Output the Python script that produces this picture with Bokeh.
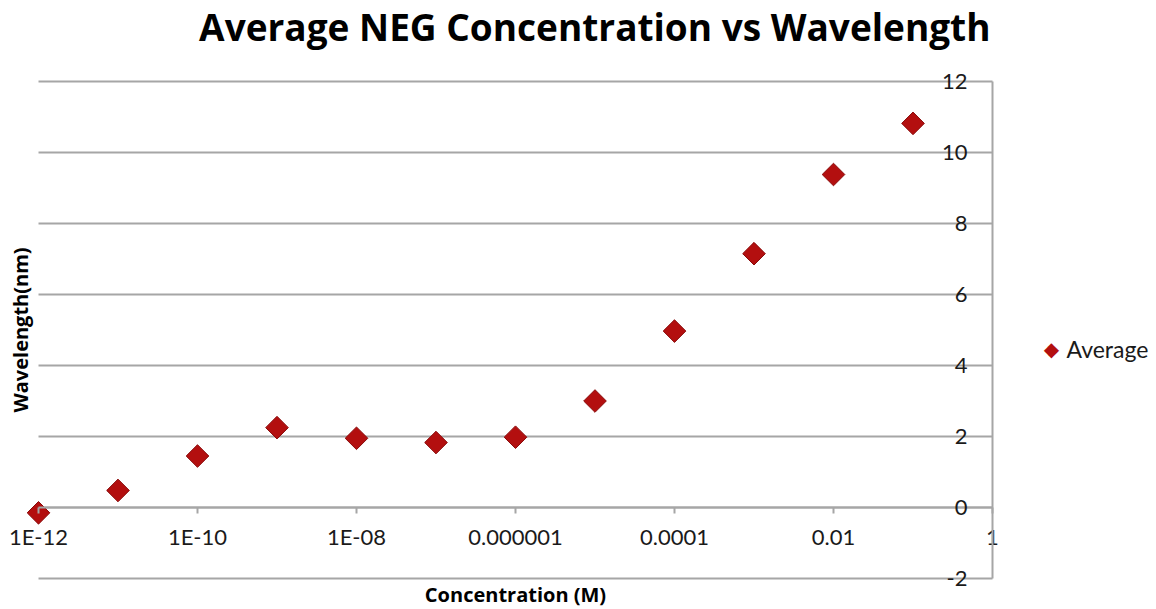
import math
from bokeh.plotting import figure
from bokeh.models import (Range1d, LogAxis, LinearAxis, FixedTicker, Grid, Label,
                          ColumnDataSource)
from bokeh.embed import file_html
from bokeh.resources import INLINE

# ---- data ----
concentration = [1e-12, 1e-11, 1e-10, 1e-9, 1e-8, 1e-7, 1e-6, 1e-5, 1e-4, 1e-3, 1e-2, 1e-1]
wavelength = [-0.15, 0.48, 1.45, 2.25, 1.95, 1.83, 1.98, 3.0, 4.97, 7.15, 9.38, 10.82]
x_ticks = [1e-12, 1e-10, 1e-8, 1e-6, 1e-4, 1e-2, 1]
x_tick_labels = ["1E-12", "1E-10", "1E-08", "0.000001", "0.0001", "0.01", "1"]
y_ticks = [-2, 0, 2, 4, 6, 8, 10, 12]
y_tick_labels = ["-2", "0", "2", "4", "6", "8", "10", "12"]
series_name = "Average"
title_text = "Average NEG Concentration vs Wavelength"
x_title = "Concentration (M)"
y_title = "Wavelength(nm)"

# ---- layout (canvas pixels) ----
W, H = 1156, 609
PLOT_L, PLOT_R, PLOT_T, PLOT_B = 38, 992, 81, 578
x_min, x_max = x_ticks[0], x_ticks[-1]
y_min, y_max = y_ticks[0], y_ticks[-1]
dec = (PLOT_R - PLOT_L) / (math.log10(x_max) - math.log10(x_min))
unit = (PLOT_B - PLOT_T) / (y_max - y_min)
xr = Range1d(10 ** (math.log10(x_min) - PLOT_L / dec), 10 ** (math.log10(x_max) + (W - PLOT_R) / dec))
yr = Range1d(y_min - (H - PLOT_B) / unit, y_max + PLOT_T / unit)

REG = "Lato"
BOLD = "Open Sans"
GRID = "#A6A6A6"
TXT = "#1a1a1a"
MARK_FILL = "#B30F0F"
MARK_LINE = "#8A0B0B"

p = figure(frame_width=W, frame_height=H, x_axis_type="log", x_range=xr, y_range=yr,
           x_axis_location=None, y_axis_location=None,
           output_backend="svg", toolbar_location=None, min_border=0)
p.center = []
p.outline_line_color = None

# horizontal gridlines limited to the plot area
g = Grid(dimension=1, ticker=FixedTicker(ticks=y_ticks), grid_line_color=GRID, grid_line_width=2)
if "cross_bounds" in Grid.properties():
    g.cross_bounds = (x_min, x_max)
    p.add_layout(g)
else:
    p.segment(x0=[x_min] * len(y_ticks), x1=[x_max] * len(y_ticks), y0=y_ticks, y1=y_ticks,
              line_color=GRID, line_width=2)

# y axis at x = 1 (right edge), labels to its left
yaxis = LinearAxis(ticker=FixedTicker(ticks=y_ticks), fixed_location=x_max, bounds=(y_min, y_max))
yaxis.major_label_overrides = {t: l for t, l in zip(y_ticks, y_tick_labels)}
yaxis.axis_line_color = GRID
yaxis.axis_line_width = 2
yaxis.major_tick_in = 0
yaxis.major_tick_out = 0
yaxis.minor_tick_in = 0
yaxis.minor_tick_out = 0
yaxis.major_label_standoff = 25
yaxis.major_label_text_font = REG
yaxis.major_label_text_font_size = "22px"
yaxis.major_label_text_color = TXT
p.add_layout(yaxis, "left")

# x axis crossing at y = 0
xaxis = LogAxis(ticker=FixedTicker(ticks=x_ticks), fixed_location=0, bounds=(x_min, x_max))
xaxis.major_label_overrides = {t: l for t, l in zip(x_ticks, x_tick_labels)}
xaxis.axis_line_color = GRID
xaxis.axis_line_width = 2
xaxis.major_tick_line_color = GRID
xaxis.major_tick_line_width = 2
xaxis.major_tick_in = 0
xaxis.major_tick_out = 6
xaxis.minor_tick_in = 0
xaxis.minor_tick_out = 0
xaxis.major_label_standoff = 9
xaxis.major_label_text_font = REG
xaxis.major_label_text_font_size = "22px"
xaxis.major_label_text_color = TXT
p.add_layout(xaxis, "below")

src = ColumnDataSource(dict(x=concentration, y=wavelength))
p.scatter("x", "y", source=src, marker="square", angle=math.pi / 4, size=16,
          fill_color=MARK_FILL, line_color=MARK_LINE, line_width=1)

# legend (marker symbol + series name) to the right of the plot area
LEG_X, LEG_Y = 1051, 348
p.add_layout(Label(x=LEG_X, y=H - LEG_Y, x_units="screen", y_units="screen", text="\u25C6",
                   text_align="center", text_baseline="middle", text_font="DejaVu Sans",
                   text_font_size="20px", text_color=MARK_FILL))
p.add_layout(Label(x=LEG_X + 15, y=H - LEG_Y, x_units="screen", y_units="screen", text=series_name,
                   text_align="left", text_baseline="middle", text_font=REG,
                   text_font_size="23px", text_color=TXT))

p.add_layout(Label(x=x_max, y=y_max, x_offset=-2, y_offset=55, text=title_text,
                   text_align="right", text_baseline="alphabetic", text_font=BOLD,
                   text_font_size="37px", text_font_style="bold", text_color="#000000"))
p.add_layout(Label(x=math.sqrt(x_min * x_max), y=y_min, y_offset=-16, text=x_title,
                   text_align="center", text_baseline="alphabetic", text_font=BOLD,
                   text_font_size="20px", text_font_style="bold", text_color="#000000"))
p.add_layout(Label(x=x_min, y=(y_min + y_max) / 2, x_offset=-18, angle=math.pi / 2, text=y_title,
                   text_align="center", text_baseline="middle", text_font=BOLD,
                   text_font_size="20px", text_font_style="bold", text_color="#000000"))

open("out.html", "w").write(file_html(p, INLINE))
